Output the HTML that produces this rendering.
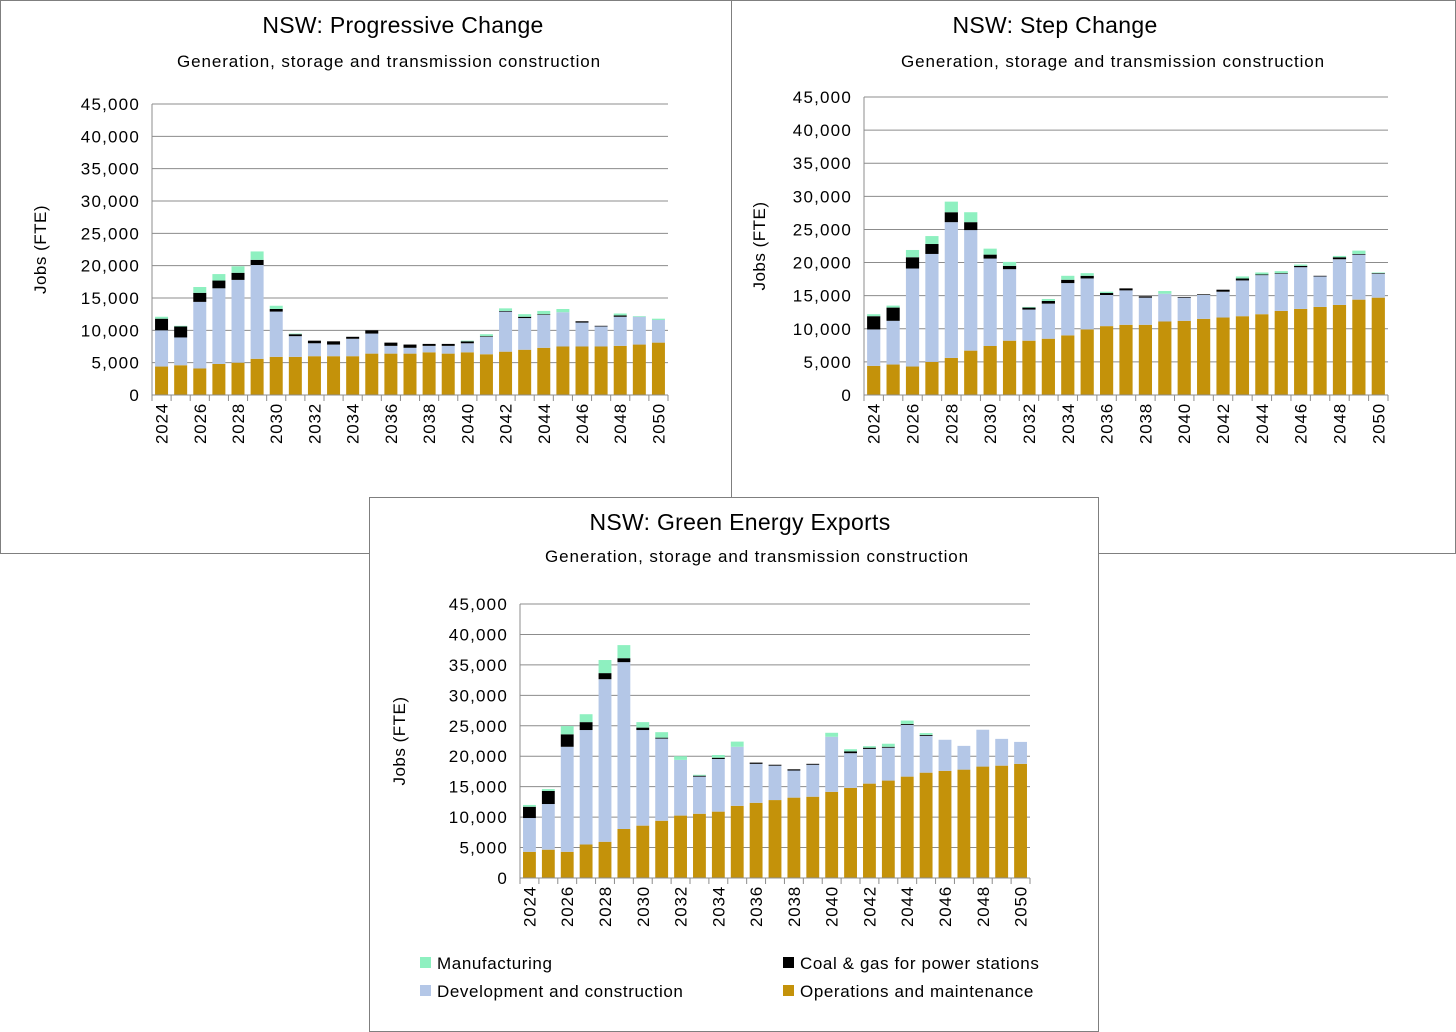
<!DOCTYPE html>
<html><head><meta charset="utf-8"><style>
body{margin:0;background:#fff;font-family:"Liberation Sans",sans-serif}
svg{position:absolute;left:0;top:0}
</style></head><body>
<svg id="s" width="1456" height="1032"></svg>
<script>
const years=[];for(let y=2024;y<=2050;y++)years.push(y);
const yTicks=[0,5000,10000,15000,20000,25000,30000,35000,40000,45000];
const pcOM=[4400,4600,4100,4800,5000,5600,5900,5900,6000,6000,6000,6400,6400,6400,6600,6400,6600,6300,6700,7000,7300,7500,7500,7500,7600,7800,8100];
const pcDC=[5600,4300,10300,11700,12800,14500,7000,3200,2000,1800,2700,3100,1200,900,1000,1200,1400,2700,6200,4900,5100,5300,3700,3100,4500,4300,3500];
const pcCG=[1800,1700,1400,1200,1100,800,400,300,400,500,300,500,500,500,300,300,300,100,100,200,100,0,200,100,200,0,0];
const pcMF=[300,100,900,1000,1000,1300,500,100,0,0,0,0,0,0,0,0,100,300,400,400,500,500,0,0,300,100,200];
const scOM=[4400,4600,4300,5000,5600,6700,7400,8200,8200,8500,9000,9900,10400,10600,10600,11100,11200,11500,11700,11900,12200,12700,13000,13300,13600,14400,14700];
const scDC=[5500,6600,14800,16300,20500,18200,13200,10800,4700,5300,7900,7700,4700,5200,4100,4200,3500,3600,3900,5400,5900,5600,6300,4600,6900,6800,3600];
const scCG=[2000,2000,1700,1500,1500,1200,600,500,300,400,500,400,300,300,200,0,100,100,300,300,100,100,200,100,300,100,100];
const scMF=[300,300,1100,1200,1600,1500,900,600,100,300,600,400,200,0,0,400,0,0,0,300,300,300,200,0,200,500,100];
const geOM=[4300,4650,4300,5500,5950,8050,8600,9400,10250,10550,10900,11850,12350,12800,13200,13350,14150,14800,15500,16000,16650,17300,17600,17800,18300,18450,18750];
const geDC=[5550,7500,17250,18800,26700,27400,15700,13500,9150,6100,8650,9700,6400,5650,4450,5250,9050,5700,5700,5400,8500,6050,5100,3900,6050,4400,3600];
const geCG=[1850,2150,2050,1300,1000,650,400,150,0,150,200,0,200,150,200,150,0,300,200,150,150,150,0,0,0,0,0];
const geMF=[300,300,1350,1300,2150,2150,900,900,600,150,450,850,0,0,0,0,650,350,250,500,550,300,0,0,0,0,0];
const colors=["#C4920A","#B4C7E7","#000000","#8EF0C0"];
const NS="http://www.w3.org/2000/svg";
const svg=document.getElementById('s');
function mk(t,a,p){const e=document.createElementNS(NS,t);for(const k in a)e.setAttribute(k,a[k]);(p||svg).appendChild(e);return e;}
function txt(x,y,s,size,anchor,p,rot,ls){const e=mk('text',{x:x,y:y,'font-size':size,'text-anchor':anchor||'middle',fill:'#000','font-family':'Liberation Sans, sans-serif','letter-spacing':ls||0},p);if(rot)e.setAttribute('transform','rotate(-90 '+x+' '+y+')');e.textContent=s;return e;}
function chart(cfg){
  const g=mk('g',{});
  
  
  const box=mk('rect',{x:cfg.bx,y:cfg.by,width:cfg.bw,height:cfg.bh,fill:'#fff',stroke:'#7f7f7f','stroke-width':1},g);
  
  const t=txt(cfg.tx,cfg.ty,cfg.title,23,'middle',g,false,0.3);
  const st=txt(cfg.sx,cfg.sy,'Generation, storage and transmission construction',17,'middle',g,false,0.9);
  const X0=cfg.x0,X1=cfg.x1,Y0=cfg.y0,Y1=cfg.y1;
  const yS=v=>Y1-(v/45000)*(Y1-Y0);
  const slot=(X1-X0)/years.length;
  const xS=i=>X0+slot*i;
  yTicks.forEach(v=>{
    if(v>0){const l=mk('line',{x1:X0,x2:X1,y1:yS(v),y2:yS(v),stroke:'#8c8c8c','stroke-width':1},g);}
    const tl=txt(X0-12,yS(v)+6,v.toLocaleString('en-US'),17,'end',g,false,1.2);
  });
  mk('line',{x1:X0,x2:X0,y1:Y0,y2:Y1,stroke:'#8c8c8c'},g);
  const yt=txt(cfg.yax,(Y0+Y1)/2,'Jobs (FTE)',17,'middle',g,true,0.5);
  const series=cfg.series;
  years.forEach((yr,i)=>{
    let acc=0;const bw=slot*0.68;const bx=xS(i)+(slot-bw)/2;
    series.forEach((s,k)=>{
      const v=s[i];if(v>0){const r=mk('rect',{x:bx,y:yS(acc+v),width:bw,height:yS(acc)-yS(acc+v),fill:colors[k]},g);
      }
      acc+=v;
    });
    if(i%2===0){const xl=txt(xS(i)+slot/2+6,Y1+8,String(yr),17,'end',g,true,0.8);}
  });
  for(let i=0;i<=years.length;i++)mk('line',{x1:xS(i),x2:xS(i),y1:Y1,y2:Y1+6,stroke:'#8c8c8c'},g);
  mk('line',{x1:X0,x2:X1,y1:Y1,y2:Y1,stroke:'#8c8c8c'},g);
  return g;
}
chart({name:'progressive-change-chart',bx:0.5,by:0.5,bw:731,bh:553,tx:403,ty:33,title:'NSW: Progressive Change',sx:389,sy:67,x0:152,x1:668,y0:104,y1:395,yax:46,series:[pcOM,pcDC,pcCG,pcMF]});
chart({name:'step-change-chart',bx:731.5,by:0.5,bw:724,bh:553,tx:1055,ty:33,title:'NSW: Step Change',sx:1113,sy:67,x0:864,x1:1388,y0:97,y1:395,yax:765,series:[scOM,scDC,scCG,scMF]});
const g3=chart({name:'green-energy-exports-chart',bx:369.5,by:497.5,bw:729,bh:534,tx:740,ty:530,title:'NSW: Green Energy Exports',sx:757,sy:562,x0:520,x1:1030,y0:604,y1:878,yax:405,series:[geOM,geDC,geCG,geMF]});
const legend=[['Manufacturing',3,420,963],['Coal & gas for power stations',2,783,963],['Development and construction',1,420,991],['Operations and maintenance',0,783,991]];
legend.forEach(l=>{
  const r=mk('rect',{x:l[2],y:l[3]-6,width:11,height:11,fill:colors[l[1]]},g3);
  
  const t=txt(l[2]+17,l[3]+6,l[0],17,'start',g3,false,0.6);
  
});
</script>
</body></html>
